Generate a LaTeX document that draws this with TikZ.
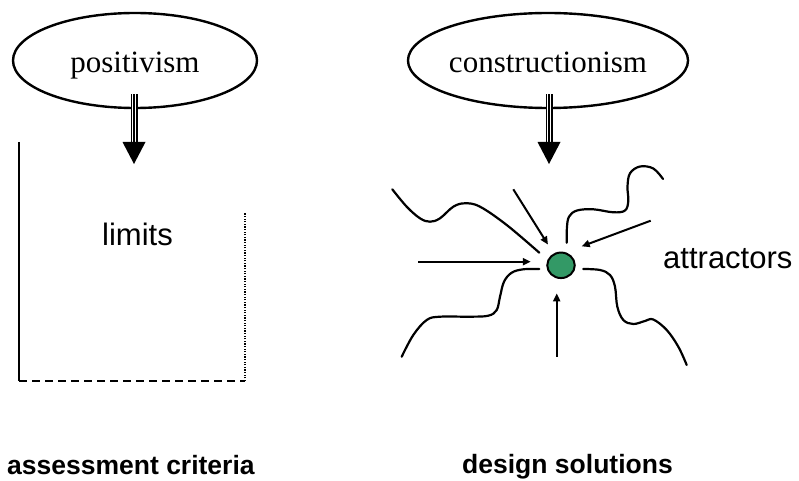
\documentclass[tikz,border=0pt]{standalone}
\usepackage{fontspec}
\setmainfont{Liberation Serif}
\setsansfont{Liberation Sans}
\usepackage{xcolor}
\usepackage{tikz}
\usetikzlibrary{shapes.geometric,arrows.meta,calc}
\definecolor{attrgreen}{RGB}{51,153,102}

\begin{document}
\begin{tikzpicture}[x=1pt,y=-1pt,
		ell/.style={draw,ellipse,line width=2.4pt,minimum width=244pt,minimum height=95pt,inner sep=0pt,
			font=\fontsize{31}{37}\selectfont,text height=25pt,text depth=0pt},
		lbl/.style={font=\sffamily\fontsize{31}{37}\selectfont,anchor=base west,inner sep=0pt},
		caption/.style={font=\sffamily\bfseries\fontsize{26.5}{32}\selectfont,anchor=base west,inner sep=0pt},
		shaft/.style={line width=7pt,black,postaction={draw,line width=4.4pt,white},postaction={draw,line width=1.6pt,black}},
		wave/.style={line width=2.2pt,line cap=round},
		pull/.style={line width=2pt,-{Triangle[length=8pt,width=7pt]}}]
		\useasboundingbox (0,0) rectangle (799,481);

		\node[ell] (pos) at (135,60.5) {positivism};
		\node[ell] (con) at (548,60.5) {constructionism};

		\coordinate (posTip) at (134,164);
		\coordinate (conTip) at (549,164);
		\foreach \e/\t in {pos/posTip, con/conTip}{
			\draw[shaft] ($(\e.south -| \t)+(0,-15)$) -- ($(\t)+(0,-22)$);
			\fill (\t) -- ++(-11.5,-22) -- ++(23,0) -- cycle;
		}

		% limits
		\coordinate (boxTL) at (19,142);
		\coordinate (boxBL) at (19,381);
		\coordinate (boxBR) at (245,381);
		\coordinate (boxTR) at (245,213);
		\draw[line width=2.4pt] (boxTL) -- (boxBL);
		\draw[line width=2.2pt,dash pattern=on 8pt off 5pt] (boxBL) -- (boxBR);
		\draw[line width=2pt,dash pattern=on 1.3pt off 1.3pt] (boxBR) -- (boxTR);
		\node[lbl] (lim) at (102,245) {limits};

		% attractors
		\node[draw,ellipse,fill=attrgreen,line width=2pt,minimum width=27.5pt,minimum height=25.5pt,inner sep=0pt] (attr) at (561,265.3) {};
		\coordinate (inTL) at (513.3,189.3);
		\coordinate (inL) at (418.3,261.7);
		\coordinate (inR) at (650.7,220.7);
		\coordinate (inB) at (556.7,356.7);
		\draw[pull,shorten >=10.5pt] (inTL) -- (attr);
		\draw[pull,shorten >=15.5pt] (inL) -- (inL -| attr.west);
		\draw[pull,shorten >=17pt] (inR) -- (attr.70);
		\draw[pull,shorten >=14.3pt] (inB) -- (inB |- attr.south);

		\draw[wave] plot[smooth,tension=0.6] coordinates {(392.3,189.3) (406.7,206.7) (420,218.3) (430,221.7) (440,218.3) (453.3,206.7) (465,203.3) (480,206.7) (506.7,225) (539.3,252.7)};
		\draw[wave] plot[smooth,tension=0.6] coordinates {(566.7,242.7) (566.9,228) (569,216.7) (577,210.5) (593.3,209.3) (613.3,212.3) (625,210.5) (628.3,201) (627.5,186.7) (630,173.3) (640,166.5) (653.3,168.5) (663,179)};
		\draw[wave] plot[smooth,tension=0.6] coordinates {(539.3,269) (523.3,269.3) (511.7,272.7) (504,281.7) (500,296.7) (496.7,310) (488.3,315.7) (470,316.7) (440,316.7) (426.7,320) (413.3,335) (401.7,356.7)};
		\draw[wave] plot[smooth,tension=0.6] coordinates {(583.3,269) (600,270) (610,275) (615,286.7) (617.3,306.7) (623.3,320) (633.3,324) (645,321) (653.3,319.5) (666.7,330) (678.3,346.7) (686.7,365)};
		\node[lbl] (att) at (663,268) {attractors};

		\node[caption] (crit) at (7,474) {assessment criteria};
		\node[caption] (sol) at (462,473) {design solutions};
	\end{tikzpicture}
\end{document}
